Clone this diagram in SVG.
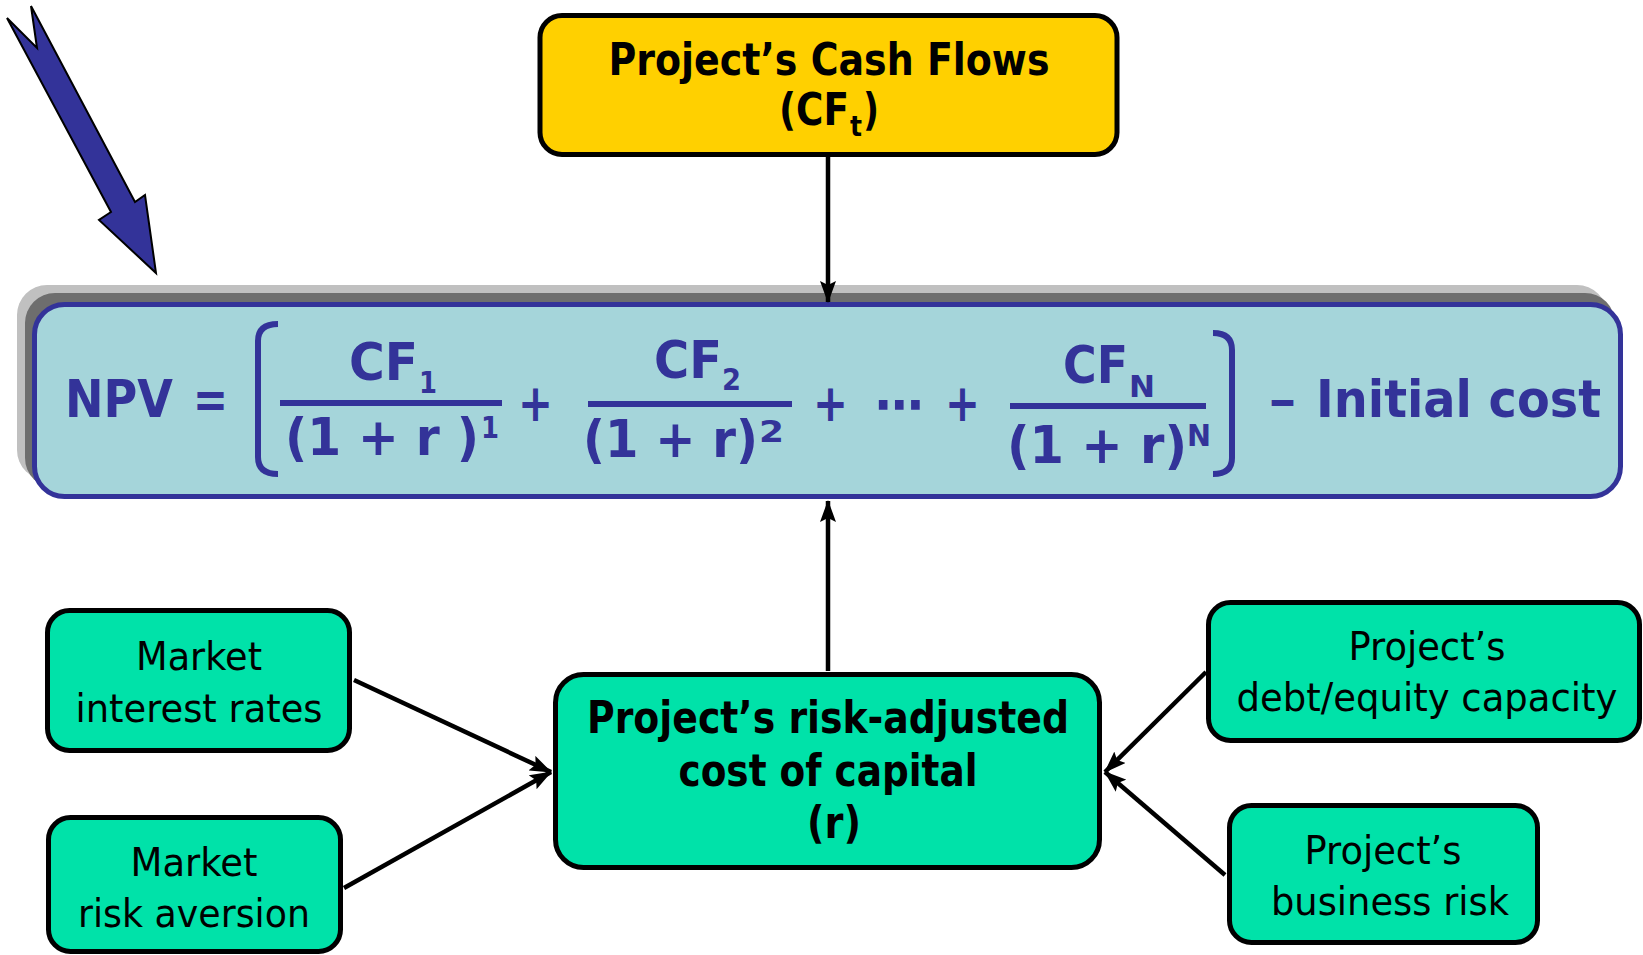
<svg xmlns="http://www.w3.org/2000/svg" width="1643" height="955" viewBox="0 0 1643 955">
<defs>
<marker id="ah" markerUnits="userSpaceOnUse" markerWidth="22" markerHeight="16" refX="21" refY="8" orient="auto">
<path d="M0,0 L22,8 L0,16 L4,8 Z" fill="#000"/>
</marker>
</defs>
<style>
.node{stroke:#000;stroke-width:5}
.grn{fill:#00E2A9}
.lbl{font-family:"DejaVu Sans","Liberation Sans",sans-serif;font-size:39px;fill:#000}
.bold{font-family:"DejaVu Sans","Liberation Sans",sans-serif;font-weight:bold;font-size:44px;fill:#000}
.f{font-family:"DejaVu Sans","Liberation Sans",sans-serif;font-weight:bold;font-size:52px;fill:#333399}
.s{font-size:30px}
.conn{stroke:#000;stroke-width:4.5;fill:none}
</style>
<rect width="1643" height="955" fill="#fff"/>

<g id="pointer">
<polygon points="7,18 37,48 31,6 135,202 145,195 156,273 99,220 111,212" fill="#333399" stroke="#000" stroke-width="2" stroke-linejoin="miter"/>
</g>

<g id="cashflows">
<rect class="node" x="540" y="15.5" width="577" height="139" rx="22" fill="#FFD000"/>
<text class="bold" x="829" y="75" text-anchor="middle" textLength="441" lengthAdjust="spacingAndGlyphs">Project’s Cash Flows</text>
<text class="bold"><tspan x="779" y="125" textLength="70" lengthAdjust="spacingAndGlyphs">(CF</tspan><tspan x="850" y="136" font-size="28" textLength="12" lengthAdjust="spacingAndGlyphs">t</tspan><tspan x="863" y="125" textLength="16" lengthAdjust="spacingAndGlyphs">)</tspan></text>
</g>

<g id="npv">
<rect x="17" y="285" width="1590" height="195" rx="30" fill="#C0C0C0"/>
<rect x="25" y="293" width="1590" height="195" rx="30" fill="#6E6E6E"/>
<rect x="34.5" y="304.5" width="1586" height="192" rx="30" fill="#A5D5DA" stroke="#333399" stroke-width="5"/>
<text class="f" x="65" y="417" textLength="108" lengthAdjust="spacingAndGlyphs">NPV</text>
<text class="f" x="193" y="417" textLength="35" lengthAdjust="spacingAndGlyphs">=</text>
<path d="M278,324 Q258,324 258,341 L258,457 Q258,474 278,474" fill="none" stroke="#333399" stroke-width="6"/>
<text class="f"><tspan x="349" y="380" textLength="69" lengthAdjust="spacingAndGlyphs">CF</tspan><tspan class="s" x="419" y="393" textLength="18" lengthAdjust="spacingAndGlyphs">1</tspan></text>
<rect x="280" y="400" width="222" height="6" fill="#333399"/>
<text class="f"><tspan x="285" y="455" textLength="194" lengthAdjust="spacingAndGlyphs">(1 + r )</tspan><tspan class="s" x="481" y="438" textLength="18" lengthAdjust="spacingAndGlyphs">1</tspan></text>
<text class="f" x="518" y="421" textLength="35" lengthAdjust="spacingAndGlyphs">+</text>
<text class="f"><tspan x="654" y="378" textLength="68" lengthAdjust="spacingAndGlyphs">CF</tspan><tspan class="s" x="722" y="390" textLength="19" lengthAdjust="spacingAndGlyphs">2</tspan></text>
<rect x="588" y="401" width="204" height="6" fill="#333399"/>
<text class="f"><tspan x="583" y="457" textLength="175" lengthAdjust="spacingAndGlyphs">(1 + r)</tspan><tspan class="s" x="759" y="442" textLength="25" lengthAdjust="spacingAndGlyphs">2</tspan></text>
<text class="f"><tspan x="813" y="421" textLength="35" lengthAdjust="spacingAndGlyphs">+</tspan><tspan x="875" y="423" textLength="49" lengthAdjust="spacingAndGlyphs">⋯</tspan><tspan x="945" y="421" textLength="35" lengthAdjust="spacingAndGlyphs">+</tspan></text>
<text class="f"><tspan x="1063" y="383" textLength="65" lengthAdjust="spacingAndGlyphs">CF</tspan><tspan class="s" x="1129" y="397" textLength="26" lengthAdjust="spacingAndGlyphs">N</tspan></text>
<rect x="1010" y="403" width="196" height="6" fill="#333399"/>
<text class="f"><tspan x="1007" y="463" textLength="180" lengthAdjust="spacingAndGlyphs">(1 + r)</tspan><tspan class="s" x="1187" y="446" textLength="24" lengthAdjust="spacingAndGlyphs">N</tspan></text>
<path d="M1213,333 Q1232,333 1232,350 L1232,458 Q1232,474 1213,474" fill="none" stroke="#333399" stroke-width="6"/>
<text class="f"><tspan x="1268" y="419" textLength="29" lengthAdjust="spacingAndGlyphs">−</tspan><tspan x="1316" y="417" textLength="285" lengthAdjust="spacingAndGlyphs">Initial cost</tspan></text>
</g>

<g id="interest">
<rect class="node grn" x="47.5" y="610.5" width="302" height="140" rx="22"/>
<text class="lbl" x="199" y="670" text-anchor="middle" textLength="126" lengthAdjust="spacingAndGlyphs">Market</text>
<text class="lbl" x="199" y="722" text-anchor="middle" textLength="247" lengthAdjust="spacingAndGlyphs">interest rates</text>
</g>

<g id="aversion">
<rect class="node grn" x="48.5" y="817.5" width="292" height="134" rx="22"/>
<text class="lbl" x="194" y="876" text-anchor="middle" textLength="127" lengthAdjust="spacingAndGlyphs">Market</text>
<text class="lbl" x="194" y="927" text-anchor="middle" textLength="232" lengthAdjust="spacingAndGlyphs">risk aversion</text>
</g>

<g id="costcap">
<rect class="node grn" x="555.5" y="674.5" width="544" height="193" rx="28"/>
<text class="bold" x="828" y="733" text-anchor="middle" textLength="482" lengthAdjust="spacingAndGlyphs">Project’s risk-adjusted</text>
<text class="bold" x="828" y="786" text-anchor="middle" textLength="299" lengthAdjust="spacingAndGlyphs">cost of capital</text>
<text class="bold" x="834" y="838" text-anchor="middle" textLength="54" lengthAdjust="spacingAndGlyphs">(r)</text>
</g>

<g id="debt">
<rect class="node grn" x="1208.5" y="602.5" width="431" height="138" rx="22"/>
<text class="lbl" x="1427" y="660" text-anchor="middle" textLength="157" lengthAdjust="spacingAndGlyphs">Project’s</text>
<text class="lbl" x="1427" y="711" text-anchor="middle" textLength="381" lengthAdjust="spacingAndGlyphs">debt/equity capacity</text>
</g>

<g id="business">
<rect class="node grn" x="1229.5" y="805.5" width="308" height="137" rx="22"/>
<text class="lbl" x="1383" y="864" text-anchor="middle" textLength="157" lengthAdjust="spacingAndGlyphs">Project’s</text>
<text class="lbl" x="1390" y="915" text-anchor="middle" textLength="238" lengthAdjust="spacingAndGlyphs">business risk</text>
</g>

<g id="connectors">
<line class="conn" x1="828" y1="157" x2="828" y2="302" marker-end="url(#ah)"/>
<line class="conn" x1="828" y1="671" x2="828" y2="501" marker-end="url(#ah)"/>
<line class="conn" x1="354" y1="680" x2="551" y2="772" marker-end="url(#ah)"/>
<line class="conn" x1="344" y1="888" x2="551" y2="772" marker-end="url(#ah)"/>
<line class="conn" x1="1206" y1="672" x2="1105" y2="772" marker-end="url(#ah)"/>
<line class="conn" x1="1225" y1="875" x2="1105" y2="772" marker-end="url(#ah)"/>
</g>
</svg>
